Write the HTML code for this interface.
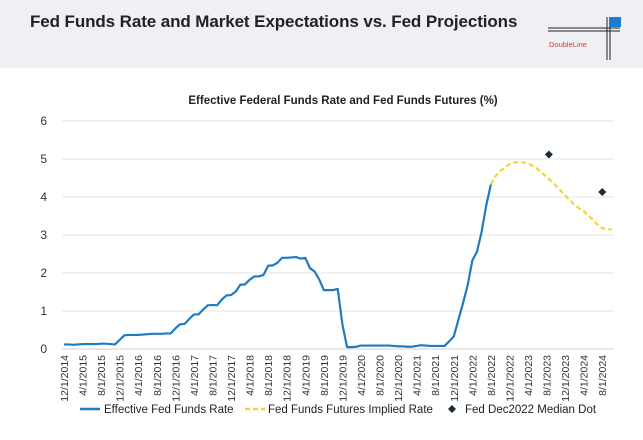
<!DOCTYPE html>
<html><head><meta charset="utf-8"><style>
body{margin:0;width:643px;height:440px;background:#fff;font-family:"Liberation Sans",sans-serif;overflow:hidden;position:relative}
#hdr{position:absolute;left:0;top:0;width:643px;height:68px;background:#eef0f4}
#ttl{position:absolute;left:30px;top:12px;font-size:17px;font-weight:bold;color:#222;letter-spacing:-0.1px}
</style></head><body>
<div id="hdr"></div>
<div id="ttl">Fed Funds Rate and Market Expectations vs. Fed Projections</div>
<svg id="logo" width="643" height="68" style="position:absolute;left:0;top:0">
<line x1="548" y1="28" x2="620" y2="28" stroke="#222" stroke-width="1"/><line x1="548" y1="31" x2="620" y2="31" stroke="#222" stroke-width="1"/>
<line x1="607" y1="17" x2="607" y2="60" stroke="#222"/><line x1="610" y1="17" x2="610" y2="60" stroke="#222"/>
<rect x="609" y="17" width="12" height="10" fill="#1a7fd0"/>
<text x="549" y="47" font-size="7.5" fill="#d23a3a" font-family="Liberation Sans">DoubleLine</text>
</svg>
<svg id="chart" width="643" height="440" style="position:absolute;left:0;top:0">
<text x="343" y="104" text-anchor="middle" font-size="11.5" font-weight="bold" fill="#222">Effective Federal Funds Rate and Fed Funds Futures (%)</text>
<g id="grid"></g><g id="xl"></g><g id="series"></g>
<g font-size="11.5" fill="#222">
<line x1="80" y1="409" x2="100" y2="409" stroke="#1f7bc1" stroke-width="2.5"/><text x="104" y="413">Effective Fed Funds Rate</text>
<line x1="245" y1="409" x2="265" y2="409" stroke="#f5d337" stroke-width="2.5" stroke-dasharray="5,3"/><text x="268" y="413">Fed Funds Futures Implied Rate</text>
<path d="M452 405 L456 409 L452 413 L448 409Z" fill="#1a2b3c"/><text x="465" y="413">Fed Dec2022 Median Dot</text>
</g>
</svg>
<script>
const yTicks=[0,1,2,3,4,5,6];
const xLabels=["12/1/2014","4/1/2015","8/1/2015","12/1/2015","4/1/2016","8/1/2016","12/1/2016","4/1/2017","8/1/2017","12/1/2017","4/1/2018","8/1/2018","12/1/2018","4/1/2019","8/1/2019","12/1/2019","4/1/2020","8/1/2020","12/1/2020","4/1/2021","8/1/2021","12/1/2021","4/1/2022","8/1/2022","12/1/2022","4/1/2023","8/1/2023","12/1/2023","4/1/2024","8/1/2024"];
const effr=[0.12,0.12,0.11,0.12,0.13,0.13,0.13,0.13,0.14,0.14,0.13,0.12,0.24,0.36,0.37,0.37,0.37,0.38,0.39,0.40,0.40,0.40,0.41,0.41,0.54,0.65,0.66,0.79,0.91,0.91,1.04,1.15,1.16,1.15,1.30,1.41,1.42,1.51,1.69,1.70,1.82,1.91,1.91,1.95,2.19,2.20,2.27,2.40,2.40,2.41,2.42,2.38,2.40,2.13,2.04,1.83,1.55,1.55,1.55,1.58,0.65,0.05,0.05,0.06,0.09,0.09,0.09,0.09,0.09,0.09,0.09,0.08,0.07,0.07,0.06,0.06,0.08,0.10,0.09,0.08,0.08,0.08,0.08,0.20,0.33,0.77,1.21,1.68,2.33,2.56,3.08,3.78,4.33];
const futStart=92;
const futures=[4.33,4.55,4.68,4.78,4.86,4.91,4.92,4.91,4.88,4.82,4.74,4.64,4.53,4.42,4.30,4.17,4.04,3.92,3.80,3.70,3.63,3.52,3.40,3.27,3.18,3.15,3.15];
const dotMonths=[104.5,116];
const dotValues=[5.12,4.13];
const NS="http://www.w3.org/2000/svg";
const X=m=>64+m*4.64, Y=v=>349-v*38;
function mk(t,a,p){const e=document.createElementNS(NS,t);for(const k in a)e.setAttribute(k,a[k]);p.appendChild(e);return e;}
const grid=document.getElementById('grid');
yTicks.forEach(v=>{
 const l=mk('line',{x1:62,x2:614,y1:Y(v),y2:Y(v),stroke:v?'#e4e4e4':'#d0d0d0','stroke-width':1},grid);
 
 
 const t=mk('text',{x:47,y:Y(v)+4,'text-anchor':'end','font-size':12,fill:'#333'},grid);t.textContent=v;
 
 
});
const xl=document.getElementById('xl');
xLabels.forEach((s,i)=>{
 const x=X(i*4);
 const t=mk('text',{x:0,y:0,'text-anchor':'end','font-size':10.5,fill:'#333',transform:`translate(${x+4},355) rotate(-90)`},xl);t.textContent=s;
 
 
});
const sg=document.getElementById('series');
const p1=mk('polyline',{points:effr.map((v,i)=>X(i)+','+Y(v)).join(' '),fill:'none',stroke:'#1f7bc1','stroke-width':2.2,'stroke-linejoin':'round'},sg);


const p2=mk('polyline',{points:futures.map((v,i)=>X(futStart+i)+','+Y(v)).join(' '),fill:'none',stroke:'#f5d337','stroke-width':2.2,'stroke-dasharray':'5,3'},sg);


dotMonths.forEach((m,i)=>{
 const x=X(m),y=Y(dotValues[i]);
 const d=mk('path',{d:`M${x} ${y-4}L${x+4} ${y}L${x} ${y+4}L${x-4} ${y}Z`,fill:'#1a2b3c'},sg);
 
 
});
</script>
</body></html>
